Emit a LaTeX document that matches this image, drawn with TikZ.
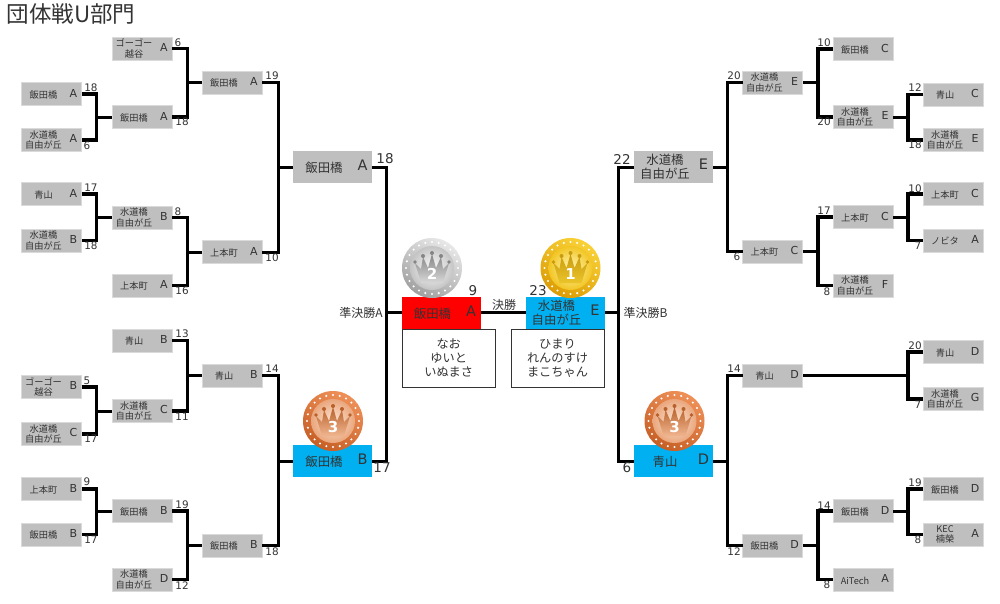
\documentclass[tikz,border=0pt]{standalone}
\usepackage{fontspec}
\setmainfont{Noto Sans CJK JP}
\newfontfamily\latf{DejaVu Sans}
\definecolor{txt}{HTML}{333333}
\definecolor{boxgray}{HTML}{BFBFBF}
\definecolor{boxedge}{HTML}{DADADA}
\definecolor{winblue}{HTML}{00B0F0}
\definecolor{winred}{HTML}{FF0000}
\definecolor{silverringtop}{HTML}{E8E8E8}\definecolor{silverringbot}{HTML}{A0A0A0}\definecolor{silverinl}{HTML}{FBFBFB}\definecolor{silverind}{HTML}{C4C4C4}\definecolor{silvercrt}{HTML}{858585}\definecolor{silvercrb}{HTML}{D8D8D8}
\definecolor{goldringtop}{HTML}{F9D237}\definecolor{goldringbot}{HTML}{DC9C05}\definecolor{goldinl}{HTML}{FFF6B8}\definecolor{goldind}{HTML}{F2C522}\definecolor{goldcrt}{HTML}{C89B10}\definecolor{goldcrb}{HTML}{EBC42A}
\definecolor{bronzeringtop}{HTML}{EE9058}\definecolor{bronzeringbot}{HTML}{C65F26}\definecolor{bronzeinl}{HTML}{FBE6D6}\definecolor{bronzeind}{HTML}{EAA67C}\definecolor{bronzecrt}{HTML}{B8602A}\definecolor{bronzecrb}{HTML}{F0B58E}
\newcount\scorecnt
% small box content: name zone / letter zone
\newcommand\tsmall[2]{\hbox to 60pt{\hbox to 44pt{\hss\parbox[c]{44pt}{\centering\fontsize{9.2}{10.8}\selectfont #1}\hss}\hbox to 16pt{\hss{\latf\fontsize{11}{13}\selectfont #2}\hss}}}
\newcommand\tlarge[2]{\hbox to 79pt{\hbox to 62pt{\hss\parbox[c]{62pt}{\centering\fontsize{12.4}{14.2}\selectfont #1}\hss}\hbox to 15pt{\hss{\latf\fontsize{14.5}{16}\selectfont #2}\hss}\hss}}
\newcommand\team[5]{\node[smallbox] (#1) at (#2,#3) {\tsmall{#4}{#5}};}
\newcommand\teamL[6]{\node[largebox,fill=#4] (#1) at (#2,#3) {\tlarge{#5}{#6}};}
\newcommand\score[3]{\global\advance\scorecnt by 1 \node[scorelab] (s\the\scorecnt) at (#1,#2) {#3};}
\newcommand\scoreL[3]{\global\advance\scorecnt by 1 \node[scorelab,font=\latf\fontsize{13.5}{15}\selectfont] (s\the\scorecnt) at (#1,#2) {#3};}
\newcommand\bktL[5][brthin]{\coordinate (jn) at (#5,0);
  \draw[#1] (#2.east) -| (#4.west -| jn) |- (#3.east);
  \draw[brthin] (#4.west -| jn) -- (#4.west);}
\newcommand\bktR[5][brthin]{\coordinate (jn) at (#5,0);
  \draw[#1] (#2.west) -| (#4.east -| jn) |- (#3.west);
  \draw[brthin] (#4.east -| jn) -- (#4.east);}
% medal: cx cy colour-prefix number
\newcommand\medal[4]{\begin{scope}[shift={(#1,#2)}]
  \shade[top color=#3ringtop,bottom color=#3ringbot,shading angle=-30] (0,0) circle[radius=30];
  \foreach \a in {0,15,...,345} {\fill[white] (\a:26) circle[radius=1.15];}
  \shade[inner color=#3inl,outer color=#3ind] (0,0) circle[radius=22];
  \shade[top color=#3crt,bottom color=#3crb] (-11,15) -- (-17,-5) -- (-11,1) -- (-9,-11) -- (-4,0) -- (0,-14) -- (4,0) -- (9,-11) -- (11,1) -- (17,-5) -- (11,15) -- cycle;
  \fill[#3crt] (-17,-6) circle[radius=1.8] (-9,-12) circle[radius=2] (0,-15) circle[radius=2] (9,-12) circle[radius=2] (17,-6) circle[radius=1.8];
  \node[font=\latf\bfseries\fontsize{15}{17}\selectfont,text=white,inner sep=0pt] (medal#4#1) at (0,6) {#4};
\end{scope}}
\tikzset{
  smallbox/.style={rectangle,draw=boxedge,line width=0.6pt,fill=boxgray,minimum width=60pt,minimum height=23pt,inner sep=0pt,outer sep=0pt,text=txt},
  largebox/.style={rectangle,line width=0pt,minimum width=79pt,minimum height=32pt,inner sep=0pt,outer sep=0pt,text=txt},
  scorelab/.style={inner sep=0pt,text=txt,font=\latf\fontsize{10.4}{12}\selectfont},
  brthin/.style={black,line width=3pt},
  brthick/.style={black,line width=3.8pt},
  memberbox/.style={rectangle,draw=txt,line width=1pt,fill=white,align=center,inner sep=0pt,text=txt,font=\fontsize{12.2}{14}\selectfont},
  midlabel/.style={inner sep=0pt,text=txt,font=\fontsize{12}{14}\selectfont}
}
\begin{document}
\begin{tikzpicture}[x=1pt,y=-1pt]
\useasboundingbox (0,0) rectangle (1000,603);
\fill[white] (0,0) rectangle (1000,603);
\node[inner sep=0pt,text=txt,font=\fontsize{22.5}{26}\selectfont] (title) at (71,14) {団体戦U部門};
% left upper
\team{a1}{51.5}{94}{飯田橋}{A}
\team{a2}{51.5}{140}{水道橋\\自由が丘}{A}
\team{a3}{51.5}{194}{青山}{A}
\team{a4}{51.5}{240.5}{水道橋\\自由が丘}{B}
\team{b1}{142}{48.5}{ゴーゴー\\越谷}{A}
\team{b2}{142}{117}{飯田橋}{A}
\team{b3}{142}{217.5}{水道橋\\自由が丘}{B}
\team{b4}{142}{285.5}{上本町}{A}
\team{c1}{232}{82.5}{飯田橋}{A}
\team{c2}{232}{252}{上本町}{A}
% left lower
\team{a5}{51.5}{387}{ゴーゴー\\越谷}{B}
\team{a6}{51.5}{434}{水道橋\\自由が丘}{C}
\team{a7}{51.5}{489}{上本町}{B}
\team{a8}{51.5}{534.5}{飯田橋}{B}
\team{b5}{142}{340.5}{青山}{B}
\team{b6}{142}{411}{水道橋\\自由が丘}{C}
\team{b7}{142}{511}{飯田橋}{B}
\team{b8}{142}{579.5}{水道橋\\自由が丘}{D}
\team{c3}{232}{375.5}{青山}{B}
\team{c4}{232}{545.5}{飯田橋}{B}
% right upper
\team{r1}{953}{94.5}{青山}{C}
\team{r2}{953}{140}{水道橋\\自由が丘}{E}
\team{r3}{953}{194}{上本町}{C}
\team{r4}{953}{240.5}{ノビタ}{A}
\team{q1}{863}{49}{飯田橋}{C}
\team{q2}{863}{117}{水道橋\\自由が丘}{E}
\team{q3}{863}{217}{上本町}{C}
\team{q4}{863}{285.5}{水道橋\\自由が丘}{F}
\team{p1}{772.5}{82.5}{水道橋\\自由が丘}{E}
\team{p2}{772.5}{251.5}{上本町}{C}
% right lower
\team{r5}{953}{352}{青山}{D}
\team{r6}{953}{399}{水道橋\\自由が丘}{G}
\team{r7}{953}{489}{飯田橋}{D}
\team{r8}{953}{534.5}{KEC\\楠榮}{A}
\team{q5}{863}{511}{飯田橋}{D}
\team{q6}{863}{579.5}{AiTech}{A}
\team{p3}{772.5}{375.5}{青山}{D}
\team{p4}{772.5}{545.5}{飯田橋}{D}
% semis and final
\teamL{sa}{332.5}{167}{boxgray}{飯田橋}{A}
\teamL{sb}{332.5}{461}{winblue}{飯田橋}{B}
\teamL{se}{673.5}{167}{boxgray}{水道橋\\自由が丘}{E}
\teamL{sd}{673.5}{461}{winblue}{青山}{D}
\teamL{fa}{441}{312.5}{winred}{飯田橋}{A}
\teamL{fe}{565}{312.5}{winblue}{水道橋\\自由が丘}{E}
\node[memberbox,minimum width=93pt,minimum height=58pt] (ma) at (448.7,358) {なお\\ゆいと\\いぬまさ};
\node[memberbox,minimum width=93pt,minimum height=58pt] (me) at (557.5,358) {ひまり\\れんのすけ\\まこちゃん};
\node[midlabel] (la) at (361,313) {準決勝A};
\node[midlabel] (lb) at (645.5,313) {準決勝B};
\node[midlabel] (lf) at (504,305) {決勝};
% connectors
\bktL[brthick]{a1}{a2}{b2}{96.5}
\bktL[brthick]{a3}{a4}{b3}{96.5}
\bktL[brthick]{a5}{a6}{b6}{96.5}
\bktL[brthick]{a7}{a8}{b7}{96.5}
\bktL[brthick]{b1}{b2}{c1}{187.5}
\bktL[brthick]{b3}{b4}{c2}{187.5}
\bktL[brthick]{b5}{b6}{c3}{187.5}
\bktL[brthick]{b7}{b8}{c4}{187.5}
\bktL{c1}{c2}{sa}{278}
\bktL{c3}{c4}{sb}{278}
\bktL{sa}{sb}{fa}{386}
\bktR{se}{sd}{fe}{618}
\bktR{p1}{p2}{se}{727}
\bktR{p3}{p4}{sd}{727}
\bktR[brthick]{q1}{q2}{p1}{818}
\bktR[brthick]{q3}{q4}{p2}{818}
\bktR[brthick]{q5}{q6}{p4}{818}
\bktR[brthick]{r1}{r2}{q2}{908}
\bktR[brthick]{r3}{r4}{q3}{908}
\bktR[brthick]{r5}{r6}{p3}{908}
\bktR[brthick]{r7}{r8}{q5}{908}
\draw[brthin] (fa.east) -- (fe.west);
% scores left
\score{91}{88}{18}\score{87}{146}{6}\score{91}{188}{17}\score{91}{246}{18}
\score{178}{43}{6}\score{182}{122}{18}\score{178}{212}{8}\score{182}{291}{16}
\score{272}{76}{19}\score{272}{258}{10}
\score{87}{381}{5}\score{91}{439}{17}\score{87}{482}{9}\score{91}{540}{17}
\score{182}{334}{13}\score{182}{417}{11}\score{182}{505}{19}\score{182}{586}{12}
\score{272}{369}{14}\score{272}{552}{18}
\scoreL{385}{159}{18}\scoreL{382}{468}{17}
\scoreL{473}{291}{9}\scoreL{538}{291}{23}
\scoreL{622}{159}{22}\scoreL{627}{468}{6}
% scores right
\score{734}{76}{20}\score{737}{257}{6}
\score{824}{43}{10}\score{824}{122}{20}\score{824}{211}{17}\score{827}{292}{8}
\score{915}{88}{12}\score{915}{145}{18}\score{915}{189}{10}\score{918}{246}{7}
\score{734}{369}{14}\score{734}{552}{12}
\score{824}{506}{14}\score{827}{585}{8}
\score{915}{346}{20}\score{918}{405}{7}\score{915}{483}{19}\score{918}{540}{8}
% medals
\medal{432}{268}{silver}{2}
\medal{570.5}{268}{gold}{1}
\medal{333}{421}{bronze}{3}
\medal{674.5}{421}{bronze}{3}
\end{tikzpicture}
\end{document}
